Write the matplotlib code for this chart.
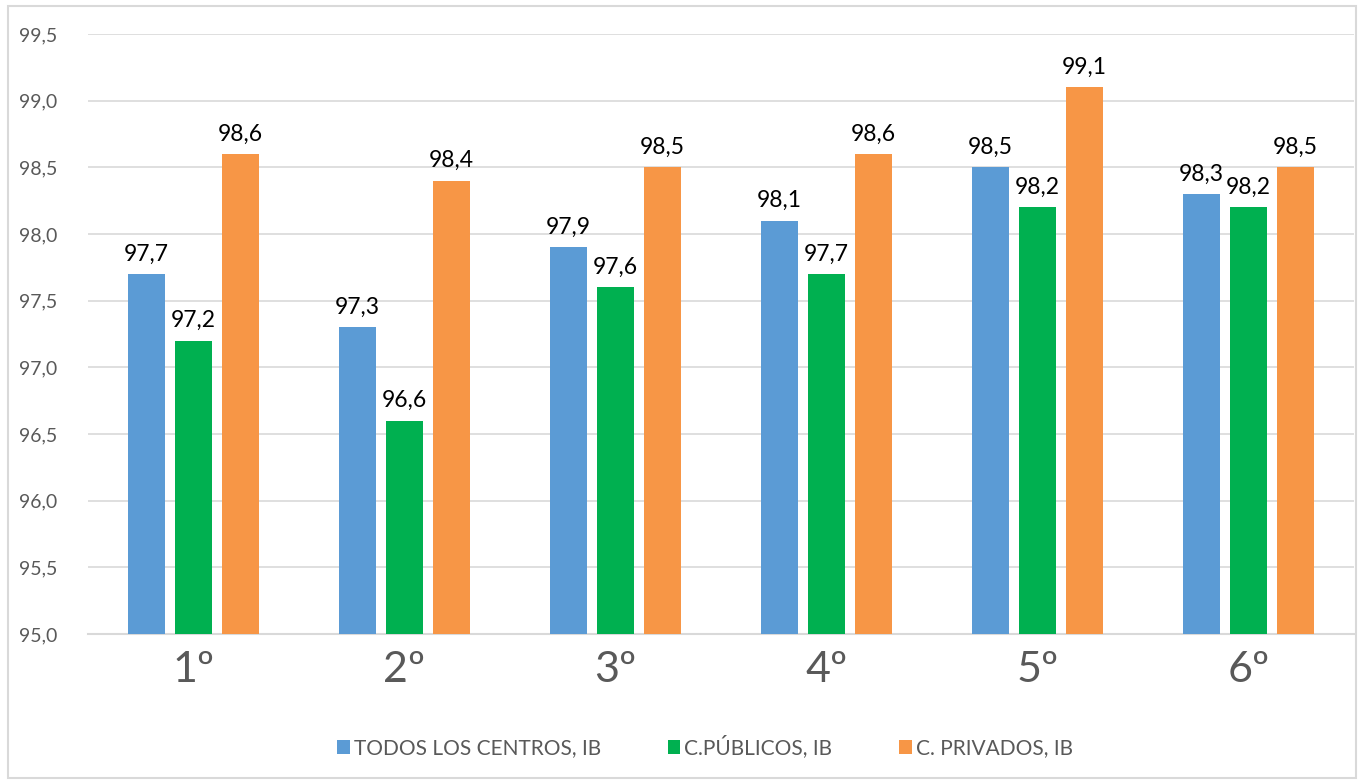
import matplotlib.pyplot as plt
import numpy as np
from matplotlib.patches import Rectangle

plt.rcParams['font.family'] = ['Lato', 'DejaVu Sans']

# Données
cursos = ["1º", "2º", "3º", "4º", "5º", "6º"]
todos = [97.7, 97.3, 97.9, 98.1, 98.5, 98.3]
publicos = [97.2, 96.6, 97.6, 97.7, 98.2, 98.2]
privados = [98.6, 98.4, 98.5, 98.6, 99.1, 98.5]
series = ["TODOS LOS CENTROS, IB", "C.PÚBLICOS, IB", "C. PRIVADOS, IB"]
colores = ['#5B9BD5', '#00B050', '#F79646']

fig = plt.figure(figsize=(13.62, 7.82), dpi=100)
ax = fig.add_axes([88/1362, 1 - 634/782, 1266/1362, 600/782])

x = np.arange(len(cursos))
ancho = 37/211
paso = 47/211
for i, (vals, nombre, col) in enumerate(zip([todos, publicos, privados], series, colores)):
    pos = x + (i - 1) * paso
    ax.bar(pos, [v - 95 for v in vals], bottom=95, width=ancho, color=col, label=nombre, zorder=3)
    for p, v in zip(pos, vals):
        ax.text(p, v + 0.07, f"{v:.1f}".replace(".", ","), ha='center', va='bottom',
                fontsize=16.5, color='black')

ax.set_ylim(95, 99.5)
ax.set_xlim(-0.5, len(cursos) - 0.5)
yt = np.arange(95, 99.51, 0.5)
ax.set_yticks(yt)
ax.set_yticklabels([f"{t:.1f}".replace(".", ",") for t in yt], fontsize=14, color='#595959')
ax.set_xticks(x)
ax.set_xticklabels(cursos, fontsize=31, color='#595959')
ax.tick_params(axis='both', length=0)
ax.tick_params(axis='y', pad=22)
ax.tick_params(axis='x', pad=12)
ax.grid(axis='y', color='#D9D9D9', linewidth=1.2, zorder=0)
for s in ['top', 'right', 'left']:
    ax.spines[s].set_visible(False)
ax.spines['bottom'].set_color('#D9D9D9')
ax.spines['bottom'].set_linewidth(1.5)

fig.legend(loc='center', bbox_to_anchor=(705/1362, 1 - 747/782), ncol=3, frameon=False,
           fontsize=15, handlelength=0.6, handleheight=0.6, handletextpad=0.2,
           columnspacing=3.2, labelcolor='#595959')

fig.patches.append(Rectangle((8/1362, 4/782), 1348/1362, 772/782, transform=fig.transFigure,
                             fill=False, edgecolor='#D9D9D9', linewidth=1.5))

fig.savefig("out.png", dpi=100)
